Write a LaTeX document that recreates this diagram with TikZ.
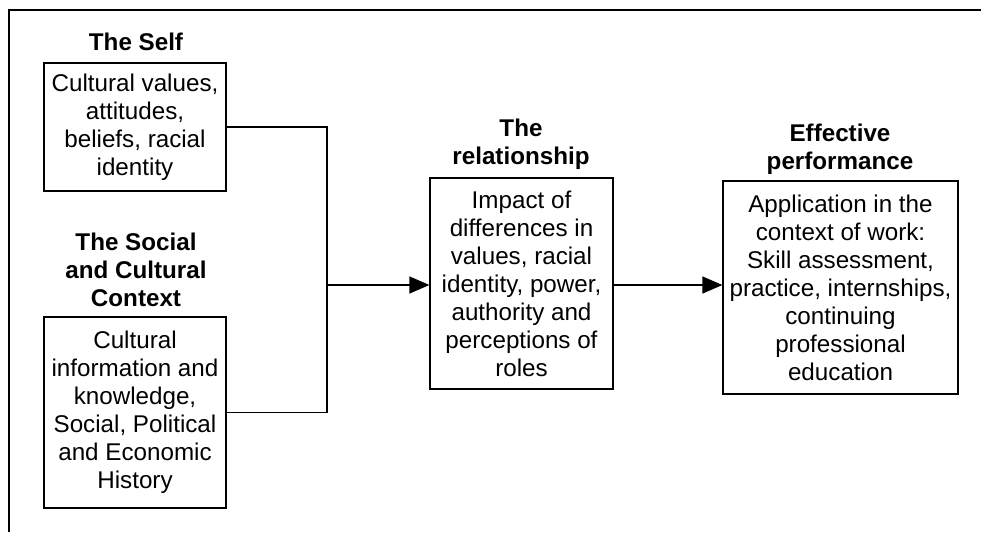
\documentclass[tikz,border=0pt]{standalone}
\usepackage{fontspec}
\setmainfont{Liberation Sans}
\usetikzlibrary{arrows.meta}
\begin{document}
\begin{tikzpicture}[x=1pt,y=-1pt,
  box/.style={draw, line width=1.2pt, align=center, inner sep=0pt,
    font=\fontsize{24.2}{28}\selectfont},
  ttl/.style={align=center, inner sep=0pt, font=\bfseries\fontsize{24.2}{28}\selectfont},
  conn/.style={line width=1.2pt},
  arr/.style={line width=1.2pt, -{Triangle[length=20pt,width=17pt]}}]
\useasboundingbox (0,0) rectangle (981,532);
\fill[white] (0,0) rectangle (981,532);
% outer frame (cropped)
\coordinate (fa) at (9,532);
\coordinate (fb) at (9,10);
\coordinate (fc) at (981,10);
\draw[line width=1.2pt] (fa) -- (fb) -- (fc);

\node[ttl] (tself) at (136,42) {The Self};
\node[box, minimum width=182pt, minimum height=128pt] (self) at (135,127)
  {Cultural values,\\attitudes,\\beliefs, racial\\identity};

\node[ttl] (tsoc) at (136,270) {The Social\\and Cultural\\Context};
\node[box, minimum width=182pt, minimum height=191pt] (soc) at (135,412.5)
  {Cultural\\information and\\knowledge,\\Social, Political\\and Economic\\History};

\node[ttl] (trel) at (521,144) {The\\relationship};
\node[box, minimum width=183pt, minimum height=211pt] (rel) at (521.5,283.5)
  {Impact of\\differences in\\values, racial\\identity, power,\\authority and\\perceptions of\\roles};

\node[ttl] (teff) at (840,149) {Effective\\performance};
\node[box, minimum width=235pt, minimum height=213pt] (eff) at (840.5,287.5)
  {Application in the\\context of work:\\Skill assessment,\\practice, internships,\\continuing\\professional\\education};

\coordinate (j) at (327,285);
\draw[conn] (self.east) -| (j);
\draw[conn] (soc.east) -| (j);
\draw[arr] (j) -- (j -| rel.west);
\draw[arr] (j -| rel.east) -- (j -| eff.west);
\end{tikzpicture}
\end{document}
